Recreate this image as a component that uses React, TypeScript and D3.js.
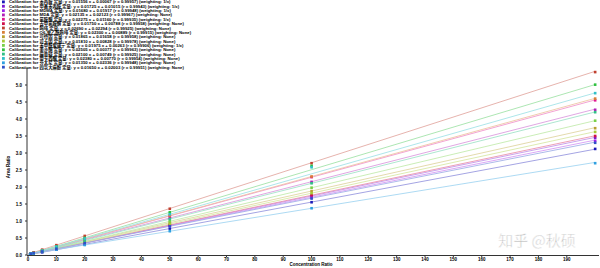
import React from "react";
import * as d3 from "d3";

const W = 600;
const H = 268;

const concentrations = [1, 2, 5, 10, 20, 50, 100, 200];

const compounds = [
  "苯丙胺", "甲基苯丙胺", "MDMA", "MDA", "氯胺酮", "去甲氯胺酮", "吗啡", "O6-单乙酰吗啡",
  "可待因", "可卡因", "苯甲酰爱康宁", "美沙酮", "麻黄碱", "甲卡西酮", "芬太尼", "四氢大麻酚",
];

const slopes = [0.01556, 0.01725, 0.0168, 0.02135, 0.02275, 0.0175, 0.0269, 0.023, 0.01865, 0.0181, 0.01975, 0.02505, 0.021, 0.0238, 0.0135, 0.0165];
const intercepts = [0.00067, 0.01015, 0.01917, 0.02123, 0.0116, 0.00788, 0.02294, 0.00889, 0.01658, 0.00828, 0.00263, 0.00377, 0.00749, 0.0077, 0.02336, 0.02003];
const rValues = [0.99957, 0.99943, 0.99948, 0.99967, 0.99935, 0.99958, 0.99925, 0.99915, 0.99958, 0.99978, 0.99906, 0.99963, 0.99925, 0.99954, 0.99948, 0.99951];
const weightings = ["1/x", "1/x", "1/x", "None", "1/x", "None", "None", "None", "None", "None", "1/x", "None", "None", "None", "None", "None"];

const s1 = [0.017, 0.032, 0.079, 0.158, 0.312, 0.776, 1.552, 3.12];
const s2 = [0.027, 0.045, 0.096, 0.183, 0.356, 0.872, 1.736, 3.45];
const s3 = [0.036, 0.052, 0.103, 0.188, 0.355, 0.858, 1.69, 3.36];
const s4 = [0.043, 0.064, 0.128, 0.234, 0.449, 1.088, 2.15, 4.27];
const s5 = [0.034, 0.057, 0.125, 0.24, 0.466, 1.15, 2.29, 4.55];
const s6 = [0.025, 0.043, 0.096, 0.183, 0.357, 0.883, 1.76, 3.5];
const s7 = [0.049, 0.077, 0.157, 0.29, 0.561, 1.36, 2.7, 5.38];
const s8 = [0.032, 0.055, 0.124, 0.238, 0.47, 1.16, 2.31, 4.6];
const s9 = [0.035, 0.054, 0.11, 0.203, 0.39, 0.95, 1.88, 3.73];
const s10 = [0.026, 0.045, 0.099, 0.188, 0.371, 0.912, 1.818, 3.62];
const s11 = [0.022, 0.042, 0.101, 0.2, 0.398, 0.991, 1.98, 3.95];
const s12 = [0.029, 0.054, 0.129, 0.254, 0.505, 1.256, 2.62, 5.01];
const s13 = [0.029, 0.05, 0.113, 0.218, 0.427, 1.057, 2.11, 4.2];
const s14 = [0.031, 0.055, 0.127, 0.246, 0.484, 1.197, 2.58, 4.76];
const s15 = [0.037, 0.05, 0.091, 0.158, 0.294, 0.7, 1.375, 2.7];
const s16 = [0.036, 0.053, 0.102, 0.185, 0.35, 0.845, 1.66, 3.3];
const seriesValues = [s1, s2, s3, s4, s5, s6, s7, s8, s9, s10, s11, s12, s13, s14, s15, s16];

const colors = [
  "#1a1ab8", "#7a1ad0", "#a020e8", "#b020b8", "#e01890", "#d01048", "#c04030", "#d88038",
  "#b8a030", "#a8c838", "#78d048", "#30c040", "#30c088", "#30c0c8", "#30a0e0", "#3050c8",
];

const yTicks = [0, 0.5, 1, 1.5, 2, 2.5, 3, 3.5, 4, 4.5, 5];
const xTicks = [0, 10, 20, 30, 40, 50, 60, 70, 80, 90, 100, 110, 120, 130, 140, 150, 160, 170, 180, 190];

const FONT = "'Liberation Sans', Arial, 'Noto Sans CJK SC', sans-serif";

export default function App() {
  const x = d3.scaleLinear().domain([0, 201]).range([28, 598]);
  const y = d3.scaleLinear().domain([0, 5.5]).range([255, 68]);

  return (
    <svg width={W} height={H} style={{ position: "absolute", left: 0, top: 0, background: "#fff" }}>
      {/* legend */}
      {compounds.map((c, i) => {
        const cy = 1.9 + i * 4.35;
        const txt = `Calibration for ${c} 定量: y = ${slopes[i].toFixed(5)} x + ${intercepts[i].toFixed(5)} (r = ${rValues[i].toFixed(5)}) (weighting: ${weightings[i]})`;
        return (
          <g key={"lg" + i}>
            <rect x={2} y={cy - 1.4} width={2.8} height={2.8} fill={colors[i]} />
            <text x={9} y={cy + 1.5} fontSize={4.3} fontWeight="bold" fontFamily={FONT} fill="#000">
              {txt}
            </text>
          </g>
        );
      })}

      {/* fit lines */}
      {slopes.map((s, i) => {
        const pts = [0, 200];
        const d = d3.line<number>().x((v) => x(v)).y((v) => y(s * v + intercepts[i]))(pts) || "";
        const lc = d3.interpolateRgb(colors[i], "#ffffff")(0.5);
        return <path key={"fl" + i} d={d} stroke={lc} strokeWidth={0.8} fill="none" />;
      })}

      {/* points */}
      {seriesValues.map((vals, i) => (
        <g key={"pt" + i}>
          {vals.map((v, j) => (
            <rect
              key={j}
              x={x(concentrations[j]) - 1.3}
              y={y(v) - 1.3}
              width={2.6}
              height={2.6}
              fill={colors[i]}
            />
          ))}
        </g>
      ))}

      {/* axes */}
      <line x1={27} x2={27} y1={68} y2={255} stroke="#333" strokeWidth={1} />
      <line x1={27} x2={599} y1={255.5} y2={255.5} stroke="#333" strokeWidth={1} />
      {yTicks.map((t) => (
        <g key={"yt" + t}>
          <line x1={25} x2={27} y1={y(t)} y2={y(t)} stroke="#333" />
          <text x={22} y={y(t) + 1.5} fontSize={4.5} fontWeight="bold" textAnchor="end" fontFamily={FONT} fill="#000">
            {t.toFixed(1)}
          </text>
        </g>
      ))}
      {xTicks.map((t) => (
        <g key={"xt" + t}>
          <line x1={x(t)} x2={x(t)} y1={255} y2={257} stroke="#333" />
          <text x={x(t)} y={261} fontSize={4.5} fontWeight="bold" textAnchor="middle" fontFamily={FONT} fill="#000">
            {t}
          </text>
        </g>
      ))}
      <text
        transform="translate(10,167) rotate(-90)"
        fontSize={4.5}
        fontWeight="bold"
        textAnchor="middle"
        fontFamily={FONT}
        fill="#000"
      >
        Area Ratio
      </text>
      <text x={311} y={266} fontSize={4.5} fontWeight="bold" textAnchor="middle" fontFamily={FONT} fill="#000">
        Concentration Ratio
      </text>

      {/* watermark */}
      <text
        x={537}
        y={246}
        fontSize={15}
        textAnchor="middle"
        fontFamily="'Noto Sans CJK SC', sans-serif"
        fill="#bdbdbd"
        stroke="#fff"
        strokeWidth={0.5}
      >
        知乎 @秋硕
      </text>
    </svg>
  );
}
